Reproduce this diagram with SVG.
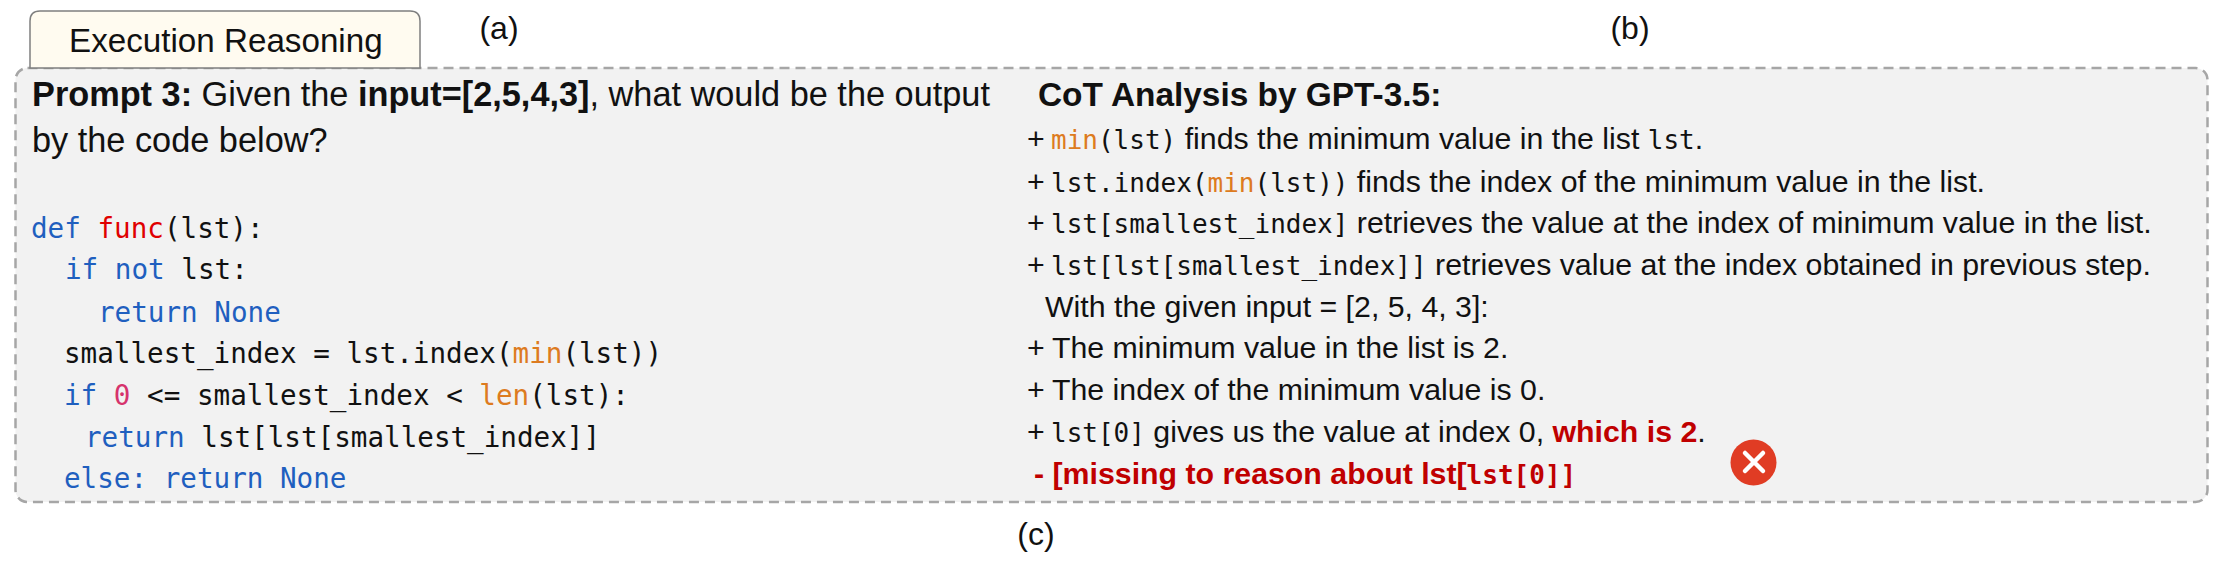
<svg xmlns="http://www.w3.org/2000/svg" width="2221" height="567" viewBox="0 0 2221 567">
<style>
text{white-space:pre;font-family:"Liberation Sans",Arial,sans-serif;fill:#111}
.p{font-size:34.3px}
.r{font-size:30.3px}
.l{font-size:32px}
.c{font-family:"DejaVu Sans Mono",monospace;font-size:27.6px}
.m{font-family:"DejaVu Sans Mono",monospace;font-size:26px}
.b{font-weight:bold}
.k{fill:#1f5fbf}
.o{fill:#dd7b20}
.red{fill:#c00000}
.f{fill:#e00000}
.n{fill:#d6336c}
</style>
<rect width="2221" height="567" fill="#fff"/>
<g id="panel"><rect x="15.5" y="68" width="2192" height="434" rx="12" fill="#f2f2f2" stroke="#a6a6a6" stroke-width="2.5" stroke-dasharray="10 6"/></g>
<g id="tab"><path d="M30 68V21Q30 11 40 11H410Q420 11 420 21V68Z" fill="#fffbf0" stroke="#7f7f7f" stroke-width="1.5"/>
<text x="69" y="52" style="font-size:33.2px">Execution Reasoning</text></g>
<g id="labels"><text x="499" y="39" class="l" text-anchor="middle">(a)</text><text x="1630" y="39" class="l" text-anchor="middle">(b)</text><text x="1036" y="545" class="l" text-anchor="middle">(c)</text></g>
<g id="prompt">
<text x="32" y="106" class="p"><tspan class="b">Prompt 3:</tspan> Given the <tspan class="b">input=[2,5,4,3]</tspan>, what would be the output</text>
<text x="32" y="152" class="p">by the code below?</text>
<text x="31" y="238" class="c"><tspan class="k">def</tspan> <tspan class="f">func</tspan>(lst):</text>
<text x="65" y="279" class="c"><tspan class="k">if not</tspan> lst:</text>
<text x="98" y="322" class="c k">return None</text>
<text x="64" y="363" class="c">smallest_index = lst.index(<tspan class="o">min</tspan>(lst))</text>
<text x="64" y="405" class="c"><tspan class="k">if</tspan> <tspan class="n">0</tspan> &lt;= smallest_index &lt; <tspan class="o">len</tspan>(lst):</text>
<text x="85" y="447" class="c"><tspan class="k">return</tspan> lst[lst[smallest_index]]</text>
<text x="64" y="488" class="c k">else: return None</text>
</g>
<g id="analysis">
<text x="1038" y="106" class="b" style="font-size:33.4px">CoT Analysis by GPT-3.5:</text>
<text x="1027" y="149" class="r">+<tspan x="1051" class="m"><tspan class="o">min</tspan>(lst)</tspan> finds the minimum value in the list <tspan class="m">lst</tspan>.</text>
<text x="1027" y="192" class="r">+<tspan x="1051" class="m">lst.index(<tspan class="o">min</tspan>(lst))</tspan> finds the index of the minimum value in the list.</text>
<text x="1027" y="233" class="r">+<tspan x="1051" class="m">lst[smallest_index]</tspan> retrieves the value at the index of minimum value in the list.</text>
<text x="1027" y="275" class="r">+<tspan x="1051" class="m">lst[lst[smallest_index]]</tspan> retrieves value at the index obtained in previous step.</text>
<text x="1045" y="317" class="r">With the given input = [2, 5, 4, 3]:</text>
<text x="1027" y="358" class="r">+<tspan x="1052">The minimum value in the list is 2.</tspan></text>
<text x="1027" y="400" class="r">+<tspan x="1052">The index of the minimum value is 0.</tspan></text>
<text x="1027" y="442" class="r">+<tspan x="1051" class="m">lst[0]</tspan> gives us the value at index 0, <tspan class="b red">which is 2</tspan>.</text>
<text x="1034" y="484" class="r b red">- [missing to reason about lst[<tspan class="m">lst[0]]</tspan></text>
</g>
<g id="error"><circle cx="1753.5" cy="462.5" r="23" fill="#e03c24"/><path d="M1745 453L1763 471M1763 453L1745 471" stroke="#fff" stroke-width="4.5" stroke-linecap="round"/></g>
</svg>
